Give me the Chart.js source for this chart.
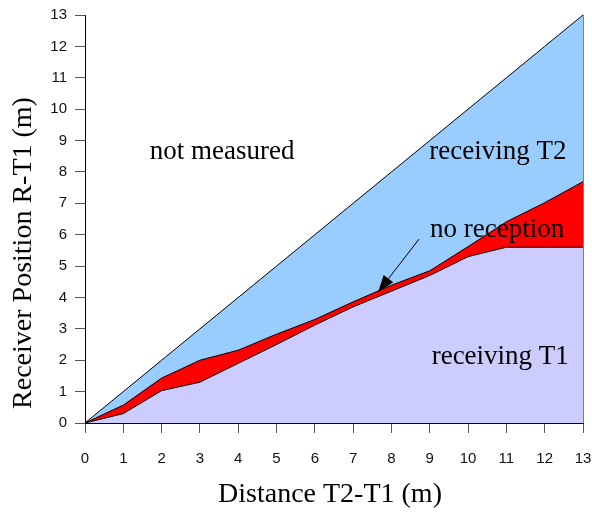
<!DOCTYPE html>
<html>
<head>
<meta charset="utf-8">
<script src="https://cdn.jsdelivr.net/npm/chart.js@4/dist/chart.umd.min.js"></script>
<style>
html,body{margin:0;padding:0;background:#fff;}
#wrap{width:592px;height:514px;}
</style>
</head>
<body>
<div id="wrap"><canvas id="c" width="592" height="514"></canvas></div>
<script>
// Distance T2-T1 (m)
const distances = [0,1,2,3,4,5,6,7,8,9,10,11,12,13];
// upper limit of "receiving T1" region (m)
const t1Limit = [0,0.3,1.03,1.3,1.9,2.5,3.12,3.7,4.2,4.7,5.3,5.6,5.6,5.6];
// lower limit of "receiving T2" region (m)
const t2Limit = [0,0.57,1.43,2.0,2.32,2.83,3.3,3.86,4.39,4.85,5.62,6.41,7.02,7.69];
// measured upper bound (receiver position = distance)
const measuredLimit = [0,1,2,3,4,5,6,7,8,9,10,11,12,13];
const xTicks = [0,1,2,3,4,5,6,7,8,9,10,11,12,13];
const yTicks = [0,1,2,3,4,5,6,7,8,9,10,11,12,13];

const labels = [
  {text:'not measured', x:3.58, y:8.63},
  {text:'receiving T2', x:10.78, y:8.63},
  {text:'no reception', x:10.76, y:6.15},
  {text:'receiving T1', x:10.84, y:2.1}
];
const arrow = {from:{x:8.72,y:5.86}, to:{x:7.65,y:4.17}};

const pts = arr => distances.map((d,i)=>({x:d,y:arr[i]}));
const serif = '"Liberation Serif", serif';

const annot = {
  id:'annot',
  afterDatasetsDraw(chart){
    const ctx = chart.ctx, xs = chart.scales.x, ys = chart.scales.y;
    ctx.save();
    ctx.fillStyle = '#000';
    ctx.font = '27px ' + serif;
    ctx.textAlign = 'center';
    ctx.textBaseline = 'middle';
    labels.forEach(l=>{
      ctx.fillText(l.text, xs.getPixelForValue(l.x), ys.getPixelForValue(l.y));
    });
    const x1 = xs.getPixelForValue(arrow.from.x), y1 = ys.getPixelForValue(arrow.from.y);
    const x2 = xs.getPixelForValue(arrow.to.x), y2 = ys.getPixelForValue(arrow.to.y);
    const ang = Math.atan2(y2-y1, x2-x1);
    const L = 17, W = 6;
    const bx = x2 - L*Math.cos(ang), by = y2 - L*Math.sin(ang);
    ctx.strokeStyle = '#000';
    ctx.lineWidth = 1;
    ctx.beginPath(); ctx.moveTo(x1,y1); ctx.lineTo(bx,by); ctx.stroke();
    ctx.beginPath();
    ctx.moveTo(x2,y2);
    ctx.lineTo(bx + W*Math.sin(ang), by - W*Math.cos(ang));
    ctx.lineTo(bx - W*Math.sin(ang), by + W*Math.cos(ang));
    ctx.closePath(); ctx.fill();
    // axis titles
    ctx.font = '28px ' + serif;
    ctx.fillText('Distance T2-T1 (m)', 330, 495);
    ctx.translate(24, 253);
    ctx.rotate(-Math.PI/2);
    ctx.fillText('Receiver Position R-T1 (m)', 0, 0);
    ctx.restore();
  }
};

new Chart(document.getElementById('c'), {
  type:'line',
  data:{
    datasets:[
      {label:'receiving T1', data:pts(t1Limit), fill:'origin', backgroundColor:'#ccccff', borderColor:'#000', borderWidth:1},
      {label:'no reception', data:pts(t2Limit), fill:'-1', backgroundColor:'#ff0000', borderColor:'#000', borderWidth:1},
      {label:'receiving T2', data:pts(measuredLimit), fill:'-1', backgroundColor:'#99ccff', borderColor:'#000', borderWidth:1},
      {label:'edge', data:[{x:distances[distances.length-1],y:0},{x:distances[distances.length-1],y:measuredLimit[measuredLimit.length-1]}], fill:false, borderColor:'#000', borderWidth:1}
    ]
  },
  options:{
    responsive:false,
    animation:false,
    devicePixelRatio:1,
    layout:{padding:{top:15,right:9,left:0,bottom:0}},
    elements:{point:{radius:0,hoverRadius:0},line:{tension:0}},
    datasets:{line:{clip:false}},
    plugins:{legend:{display:false},tooltip:{enabled:false},filler:{propagate:false}},
    scales:{
      x:{
        type:'linear', min:0, max:13,
        afterBuildTicks(s){ s.ticks = xTicks.map(v=>({value:v})); },
        afterFit(s){ s.height = 91; s.paddingLeft = 0; s.paddingRight = 0; },
        grid:{drawOnChartArea:false, drawTicks:true, tickLength:10, color:'#555'},
        border:{display:true, color:'#000', width:1},
        ticks:{padding:17, color:'#111', font:{family:'"Liberation Sans", Arial, sans-serif', size:15}, maxRotation:0, autoSkip:false}
      },
      y:{
        type:'linear', min:0, max:13,
        afterBuildTicks(s){ s.ticks = yTicks.map(v=>({value:v})); },
        afterFit(s){ s.width = 85; s.paddingTop = 0; s.paddingBottom = 0; },
        grid:{drawOnChartArea:false, drawTicks:true, tickLength:10, color:'#555'},
        border:{display:true, color:'#000', width:1},
        ticks:{padding:8, color:'#111', font:{family:'"Liberation Sans", Arial, sans-serif', size:15}, autoSkip:false}
      }
    }
  },
  plugins:[annot]
});
</script>
</body>
</html>
